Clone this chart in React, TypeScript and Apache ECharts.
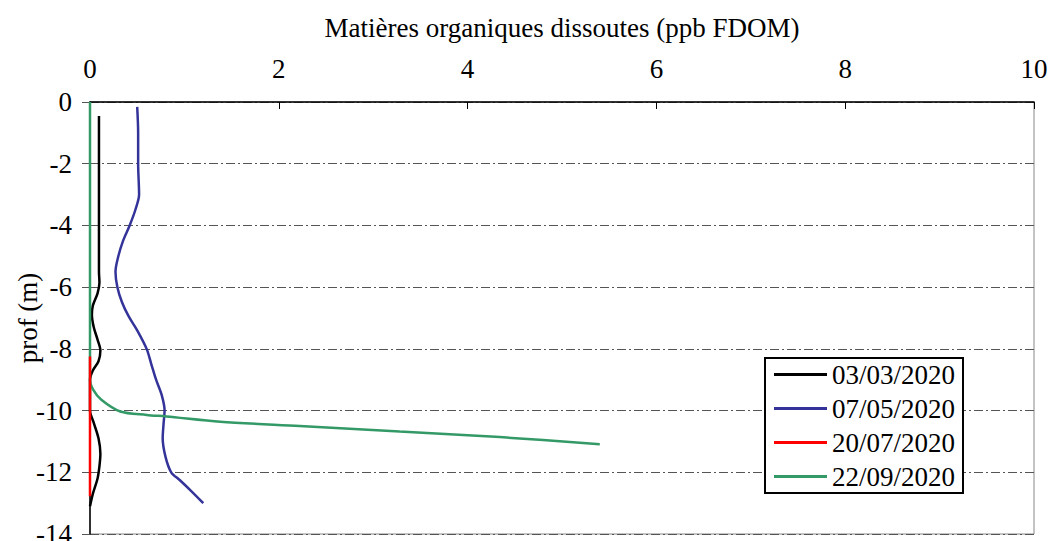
import React, { useEffect, useRef } from "react";
import * as echarts from "echarts";

const FONT = "Times New Roman, Liberation Serif, DejaVu Serif, serif";

const xTicks = [0, 2, 4, 6, 8, 10];
const depthTicks = [0, -2, -4, -6, -8, -10, -12, -14];

const seriesNames = ["03/03/2020", "07/05/2020", "20/07/2020", "22/09/2020"];
const seriesColors = ["#000000", "#333399", "#ff0000", "#339966"];

const fdom0303 = [0.095, 0.095, 0.095, 0.095, 0.1, 0.08, 0.03, 0.02, 0.04, 0.08, 0.11, 0.09, 0.03, 0.0, 0.0, 0.0, 0.04, 0.09, 0.11, 0.1, 0.08, 0.03, 0.0];
const depth0303 = [-0.45, -2, -4, -5.5, -5.85, -6.2, -6.6, -6.9, -7.3, -7.7, -8.05, -8.4, -8.7, -9.0, -9.5, -10.0, -10.4, -10.9, -11.4, -11.8, -12.2, -12.7, -13.1];

const fdom0705 = [0.5, 0.51, 0.51, 0.52, 0.48, 0.42, 0.35, 0.3, 0.27, 0.29, 0.34, 0.41, 0.5, 0.6, 0.65, 0.7, 0.76, 0.79, 0.78, 0.77, 0.8, 0.86, 0.95, 1.07, 1.2];
const depth0705 = [-0.16, -1, -2, -3.0, -3.5, -4.0, -4.5, -5.0, -5.5, -6.0, -6.5, -6.95, -7.4, -8.0, -8.5, -9.0, -9.5, -10.0, -10.4, -10.9, -11.5, -12.0, -12.25, -12.6, -13.0];

const fdom2007 = [0, 0, 0, 0];
const depth2007 = [-8.25, -10, -11.5, -12.78];

const fdom2209 = [0, 0, 0, 0, 0.035, 0.12, 0.32, 0.6, 0.81, 1.38, 2.22, 3.28, 4.34, 5.4];
const depth2209 = [0, -3, -6, -9.0, -9.33, -9.65, -10.03, -10.14, -10.19, -10.36, -10.5, -10.68, -10.86, -11.09];

const allX = [fdom0303, fdom0705, fdom2007, fdom2209];
const allY = [depth0303, depth0705, depth2007, depth2209];

export default function App() {
  const ref = useRef<HTMLDivElement>(null);
  useEffect(() => {
    if (!ref.current) return;
    const chart = echarts.init(ref.current, null, { renderer: "svg" });
    const series = seriesNames.map((name, i) => ({
      name,
      type: "line",
      data: allX[i].map((v, k) => [v, allY[i][k]]),
      showSymbol: false,
      symbol: "none",
      smooth: 0.3,
      lineStyle: { color: seriesColors[i], width: 2.5 },
      itemStyle: { color: seriesColors[i] },
      z: i === 2 ? 3 : 2,
    }));
    chart.setOption({
      animation: false,
      textStyle: { fontFamily: FONT },
      grid: {
        left: 90,
        right: 14,
        top: 102,
        bottom: 7,
        show: true,
        borderColor: "#888888",
        borderWidth: 1,
        outerBoundsMode: "none",
        containLabel: false,
      },
      legend: {
        orient: "vertical",
        left: 765,
        top: 358,
        data: seriesNames.map((n) => ({ name: n, icon: "rect" })),
        itemWidth: 53,
        itemHeight: 3,
        itemGap: 7,
        padding: [3, 8, 3, 9],
        borderColor: "#000000",
        borderWidth: 2,
        backgroundColor: "#ffffff",
        textStyle: { fontFamily: FONT, fontSize: 27, color: "#000000", padding: [0, 0, 0, 0] },
      },
      xAxis: {
        type: "value",
        position: "top",
        min: xTicks[0],
        max: xTicks[xTicks.length - 1],
        interval: 2,
        name: "Matières organiques dissoutes (ppb FDOM)",
        nameLocation: "middle",
        nameGap: 61,
        nameTextStyle: { fontFamily: FONT, fontSize: 27, color: "#000000" },
        axisLine: { show: true, lineStyle: { color: "#000000", width: 1.5 } },
        axisTick: { show: true, inside: true, length: 7, lineStyle: { color: "#000000" } },
        axisLabel: { fontFamily: FONT, fontSize: 27, color: "#000000", margin: 20 },
        splitLine: { show: false },
      },
      yAxis: {
        type: "value",
        min: depthTicks[depthTicks.length - 1],
        max: depthTicks[0],
        interval: 2,
        name: "prof (m)",
        nameLocation: "middle",
        nameGap: 49,
        nameMoveOverlap: false,
        nameRotate: 90,
        nameTextStyle: { fontFamily: FONT, fontSize: 27, color: "#000000" },
        axisLine: { show: true, onZero: false, lineStyle: { color: "#000000", width: 1.5 } },
        axisTick: { show: true, inside: false, length: 8, lineStyle: { color: "#555555" } },
        axisLabel: { fontFamily: FONT, fontSize: 27, color: "#000000", margin: 18 },
        splitLine: {
          show: true,
          lineStyle: { color: "#555555", width: 1, type: [9, 3, 2, 3] },
        },
      },
      series,
    });
    return () => chart.dispose();
  }, []);
  return (
    <div
      ref={ref}
      style={{ position: "absolute", left: 0, top: 0, width: 1048, height: 541, background: "#ffffff" }}
    />
  );
}
